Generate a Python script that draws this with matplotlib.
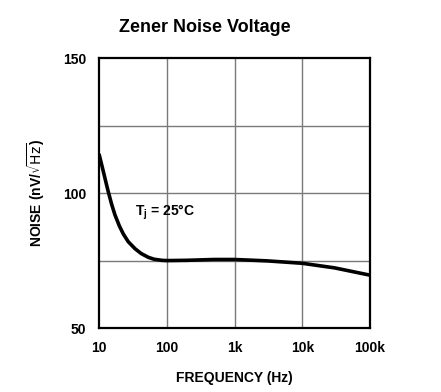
import matplotlib.pyplot as plt

# data
freq = [10, 11, 12, 13, 13.7, 15.3, 17.2, 20, 22.9, 27, 34, 42, 53.5, 65, 84, 100,
        200, 500, 1000, 3000, 10000, 30000, 100000]
noise = [114.5, 110.3, 106.4, 102.8, 100.5, 96.0, 91.9, 87.8, 84.8, 82.0, 79.4, 77.6, 76.2, 75.5, 75.1, 75,
         75.1, 75.4, 75.4, 74.9, 74.0, 72.3, 69.6]

xticks = [10, 100, 1000, 10000, 100000]
xlabels = ['10', '100', '1k', '10k', '100k']
yticks = [50, 100, 150]
ygrid = [75, 100, 125]

fam = ['Liberation Sans Narrow', 'Liberation Sans', 'DejaVu Sans']
plt.rcParams['font.family'] = fam

fig = plt.figure(figsize=(4.41, 3.92), dpi=100)
ax = fig.add_axes([0.2245, 0.163, 0.6145, 0.689])

ax.plot(freq, noise, color='black', linewidth=2.6, solid_capstyle='butt',
        solid_joinstyle='round')

ax.set_xscale('log')
ax.set_xlim(10, 100000)
ax.set_ylim(50, 150)
ax.set_xticks(xticks)
ax.set_xticklabels(xlabels)
ax.set_yticks(yticks)
ax.minorticks_off()
ax.tick_params(length=0, pad=9, labelsize=10)
for lab in ax.get_xticklabels() + ax.get_yticklabels():
    lab.set_fontweight('bold')

# grid
for x in xticks[1:-1]:
    ax.axvline(x, color='#7a7a7a', linewidth=1.0, zorder=0)
for y in ygrid:
    ax.axhline(y, color='#7a7a7a', linewidth=1.0, zorder=0)

for s in ax.spines.values():
    s.set_linewidth(1.6)

ax.set_xlabel('FREQUENCY (Hz)', fontsize=10, fontweight='bold', labelpad=12)
ax.set_ylabel(r'NOISE (nV/$\sqrt{\mathrm{Hz}}$)', fontsize=10, fontweight='bold', labelpad=12)
ax.text(34, 91.5, r'T$_\mathregular{j}$ = 25°C', fontsize=10, fontweight='bold')

fig.text(0.465, 0.93, 'Zener Noise Voltage', ha='center', va='center',
         fontsize=13, fontweight='bold', family=['Liberation Sans', 'DejaVu Sans'])

fig.savefig('out.png', dpi=100)
